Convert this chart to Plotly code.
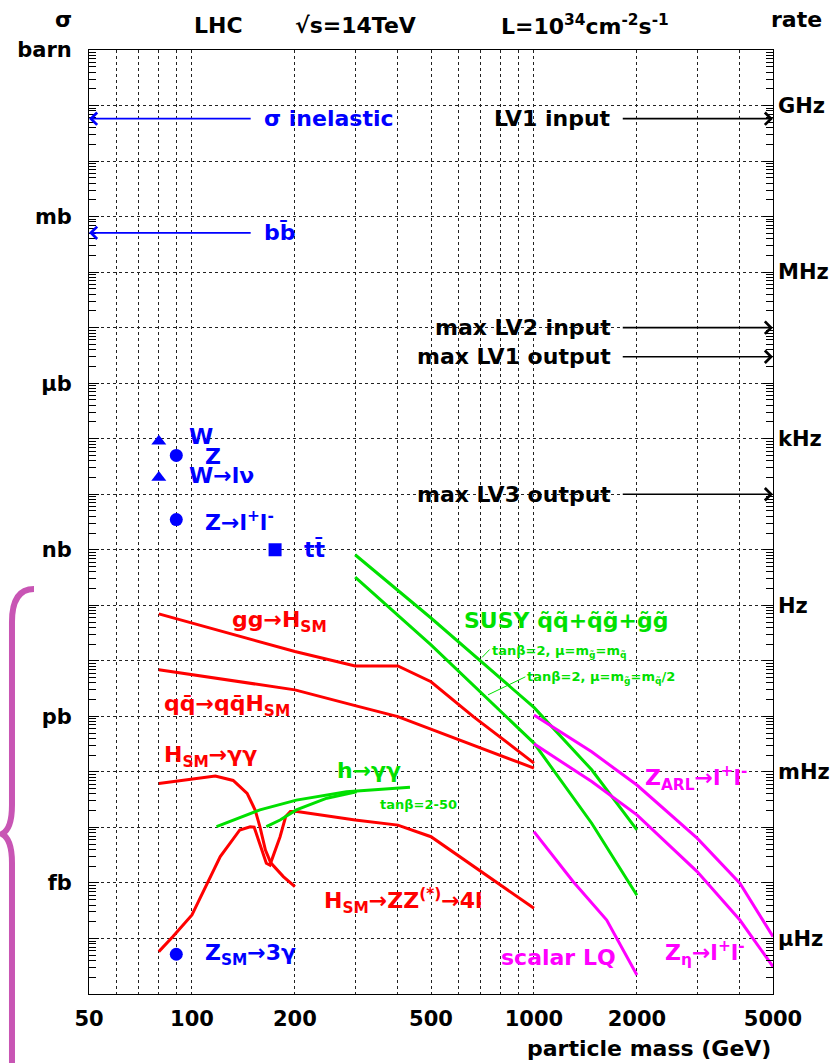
import numpy as np
import plotly.graph_objects as go

# ---------------------------------------------------------------------------
# Units: cross sections are plotted in barn
NB, PB, FB = 1e-9, 1e-12, 1e-15
# L = 1e34 cm^-2 s^-1  ->  rate [Hz] = sigma [barn] * 1e10
HZ_PER_BARN = 1e10

# Total rates (arrows to the left axis), in barn
sigma_inelastic = 0.058
sigma_bbbar = 5.1e-4

# Trigger rates (arrows to the right axis), in Hz
rate_lv1_input = 5.8e8
rate_lv2_input = 1.0e5
rate_lv1_output = 3.0e4
rate_lv3_output = 1.0e2

# Standard-model reference points
w_mass, w_total_nb, w_lnu_nb = 80, 90, 20
z_mass, z_total_nb, z_ll_nb = 90, 50, 3.5
top_mass, ttbar_nb = 175, 1.0
z3g_mass, z3g_fb = 90, 0.052

# SM Higgs production / decay channels
gg_h_mass = [80, 200, 300, 400, 500, 665, 1000]
gg_h_pb = [70, 14.7, 8.1, 8.1, 4.2, 0.99, 0.144]

qq_h_mass = [80, 200, 300, 400, 1000]
qq_h_pb = [6.9, 3.0, 1.56, 0.99, 0.117]

h_gg_mass = [80, 100, 117, 132, 145, 153, 158, 164, 170, 185, 200]
h_gg_fb = [62, 74, 84, 70, 41, 20.6, 10.3, 3.9, 2.3, 1.3, 0.86]

h_zz_mass = [80, 88, 100, 121, 138, 148, 152, 165, 169, 181, 188, 194, 203, 300, 400, 500, 1000]
h_zz_fb = [0.058, 0.108, 0.265, 2.98, 9.0, 10.3, 10.1, 2.26, 2.1, 6.8, 15.7, 19.3, 19.3, 13.6, 11.0, 6.8, 0.35]

# MSSM light Higgs h -> gamma gamma band (tan beta = 2-50)
mssm_hgg_upper_mass = [118, 158, 202, 283, 434]
mssm_hgg_upper_fb = [10.3, 20.7, 31, 44, 53]
mssm_hgg_lower_mass = [165, 181, 202, 248, 303]
mssm_hgg_lower_fb = [10.3, 13.6, 20.7, 33.6, 44]

# SUSY squark/gluino production
susy_mass = [300, 500, 1000, 1475, 2000]
susy_equal_pb = [813, 59, 1.45, 0.109, 0.009]
susy_half_pb = [322, 19.4, 0.33, 0.0119, 0.0006]

# New heavy gauge bosons and leptoquarks
zprime_mass = [1000, 1475, 2000, 3000, 4000, 5000]
z_arl_fb = [1060, 230, 58, 6.4, 0.99, 0.108]
z_eta_fb = [320, 67, 16.8, 1.6, 0.215, 0.031]
lq_mass = [1000, 1303, 1632, 2000]
lq_fb = [8.4, 1.05, 0.215, 0.022]

# Leader lines from the small tan(beta) captions to their curves
leader_equal_mass = [742, 705]
leader_equal_sigma = [1.6e-11, 1.15e-11]
leader_half_mass = [944, 734]
leader_half_sigma = [5.15e-12, 2.44e-12]

# Axis ticks
sigma_label_vals = [1e0, 1e-3, 1e-6, 1e-9, 1e-12, 1e-15]
sigma_label_text = ["barn", "mb", "μb", "nb", "pb", "fb"]
sigma_other_decades = [10.0 ** -k for k in range(1, 18) if k % 3 != 0]
sigma_minor_vals = [m * 10.0 ** -k for k in range(1, 18) for m in range(2, 10)]

rate_tick_hz = [1e9, 1e6, 1e3, 1e0, 1e-3, 1e-6]
rate_tick_text = ["GHz", "MHz", "kHz", "Hz", "mHz", "μHz"]

mass_label_vals = [50, 100, 200, 500, 1000, 2000, 5000]
mass_label_text = ["50", "100", "200", "500", "1000", "2000", "5000"]
mass_other_grid = [60, 70, 80, 90, 300, 400, 600, 700, 800, 900, 3000, 4000]

# ---------------------------------------------------------------------------
FONT = "DejaVu Sans"
BLUE = "#0000ff"
RED = "#ff0000"
GREEN = "#00e000"
MAGENTA = "#ff00ff"
BRACE = "#c855b4"
lg = np.log10

fig = go.Figure()


def curve(mass, sigma, color, width=3.0):
    fig.add_trace(go.Scatter(x=mass, y=sigma, mode="lines",
                             line=dict(color=color, width=width),
                             showlegend=False, hoverinfo="skip"))


def scaled(values, unit):
    return [v * unit for v in values]


curve(gg_h_mass, scaled(gg_h_pb, PB), RED)
curve(qq_h_mass, scaled(qq_h_pb, PB), RED)
curve(h_gg_mass, scaled(h_gg_fb, FB), RED)
curve(h_zz_mass, scaled(h_zz_fb, FB), RED)
curve(mssm_hgg_upper_mass, scaled(mssm_hgg_upper_fb, FB), GREEN)
curve(mssm_hgg_lower_mass, scaled(mssm_hgg_lower_fb, FB), GREEN)
curve(susy_mass, scaled(susy_equal_pb, PB), GREEN)
curve(susy_mass, scaled(susy_half_pb, PB), GREEN)
curve(leader_equal_mass, leader_equal_sigma, GREEN, 1)
curve(leader_half_mass, leader_half_sigma, GREEN, 1)
curve(zprime_mass, scaled(z_arl_fb, FB), MAGENTA)
curve(zprime_mass, scaled(z_eta_fb, FB), MAGENTA)
curve(lq_mass, scaled(lq_fb, FB), MAGENTA)

# SM reference points
fig.add_trace(go.Scatter(x=[w_mass, w_mass], y=[w_total_nb * NB, w_lnu_nb * NB],
                         mode="markers", marker=dict(symbol="triangle-up", size=13, color=BLUE),
                         showlegend=False, hoverinfo="skip"))
fig.add_trace(go.Scatter(x=[z_mass, z_mass, z3g_mass],
                         y=[z_total_nb * NB, z_ll_nb * NB, z3g_fb * FB],
                         mode="markers", marker=dict(symbol="circle", size=13, color=BLUE),
                         showlegend=False, hoverinfo="skip"))
fig.add_trace(go.Scatter(x=[top_mass], y=[ttbar_nb * NB], mode="markers",
                         marker=dict(symbol="square", size=13, color=BLUE),
                         showlegend=False, hoverinfo="skip"))

# carriers for the rate axis and the fine tick axis
fig.add_trace(go.Scatter(x=[100], y=[1e-5], yaxis="y2", mode="markers",
                         marker=dict(opacity=0), showlegend=False, hoverinfo="skip"))
fig.add_trace(go.Scatter(x=[100], y=[1e-5], yaxis="y3", mode="markers",
                         marker=dict(opacity=0), showlegend=False, hoverinfo="skip"))


def label(text, mass, sigma, color, size=22, anchor="left"):
    fig.add_annotation(x=lg(mass), y=lg(sigma), xref="x", yref="y", text=text,
                       showarrow=False, xanchor=anchor, yanchor="middle",
                       font=dict(family=FONT, size=size, color=color, weight="bold"))


def arrow(tip_mass, tail_mass, sigma, color):
    fig.add_annotation(x=lg(tip_mass), y=lg(sigma), ax=lg(tail_mass), ay=lg(sigma),
                       xref="x", yref="y", axref="x", ayref="y", text="",
                       showarrow=True, arrowhead=4, arrowsize=1.5, arrowwidth=1.6,
                       arrowcolor=color, standoff=0, startstandoff=0)


# total cross sections -> left
arrow(50, 150, sigma_inelastic, BLUE)
label("σ inelastic", 160, sigma_inelastic, BLUE)
arrow(50, 150, sigma_bbbar, BLUE)
label("bb\u0304", 160, sigma_bbbar, BLUE)

# trigger levels -> right
for text, rate in [("LV1 input", rate_lv1_input),
                   ("max LV2 input", rate_lv2_input),
                   ("max LV1 output", rate_lv1_output),
                   ("max LV3 output", rate_lv3_output)]:
    arrow(5000, 1800, rate / HZ_PER_BARN, "black")
    label(text, 1700, rate / HZ_PER_BARN, "black", anchor="right")

label("W", 96.5, 1.08e-7, BLUE)
label("Z", 107.7, 4.85e-8, BLUE)
label("W→lν", 96.5, 2.15e-8, BLUE)
label("Z→l<sup>+</sup>l<sup>-</sup>", 107.7, 3.33e-9, BLUE)
label("tt\u0304", 209.5, 1.0e-9, BLUE)
label("Z<sub>SM</sub>→3γ", 107.7, 5.05e-17, BLUE)

label("gg→H<sub>SM</sub>", 129, 5.05e-11, RED)
label("qq\u0304→qq\u0304H<sub>SM</sub>", 81.6, 1.55e-12, RED)
label("H<sub>SM</sub>→γγ", 81.6, 1.86e-13, RED)
label("H<sub>SM</sub>→ZZ<sup>(*)</sup>→4l", 239.6, 4.74e-16, RED)

label("h→γγ", 262.5, 1.04e-13, GREEN)
label("tanβ=2-50", 350, 2.54e-14, GREEN, size=13)
label("SUSY q\u0303q\u0303+q\u0303g\u0303+g\u0303g\u0303", 614, 5.26e-11, GREEN)
label("tanβ=2, μ=m<sub>g\u0303</sub>=m<sub>q\u0303</sub>", 742, 1.45e-11, GREEN, size=13)
label("tanβ=2, μ=m<sub>g\u0303</sub>=m<sub>q\u0303</sub>/2", 944, 4.94e-12, GREEN, size=13)

label("Z<sub>ARL</sub>→l<sup>+</sup>l<sup>-</sup>", 2087, 7.8e-14, MAGENTA)
label("Z<sub>η</sub>→l<sup>+</sup>l<sup>-</sup>", 2382, 5.5e-17, MAGENTA)
label("scalar LQ", 1762, 4.5e-17, MAGENTA, anchor="right")


def header(text, xpaper, yshift, anchor="center", xshift=0):
    fig.add_annotation(x=xpaper, y=1, xref="paper", yref="paper", text=text,
                       showarrow=False, xanchor=anchor, yanchor="middle",
                       xshift=xshift, yshift=yshift,
                       font=dict(family=FONT, size=22, color="black", weight="bold"))


header("σ", 0, 31, xshift=-26)
header("LHC", 0.190, 25)
header("√s=14TeV", 0.389, 25)
header("L=10<sup>34</sup>cm<sup>-2</sup>s<sup>-1</sup>", 0.725, 25)
header("rate", 1.035, 31)

fig.add_annotation(x=1, y=0, xref="paper", yref="paper", text="particle mass (GeV)",
                   showarrow=False, xanchor="right", yanchor="middle", yshift=-54,
                   font=dict(family=FONT, size=22, color="black", weight="bold"))

# curly bracket in the left margin (pixel layout -> paper coordinates)
PLOT_L, PLOT_R, PLOT_T, PLOT_B = 89, 773, 50, 994


def px(x, y):
    return f"{(x - PLOT_L) / (PLOT_R - PLOT_L):.4f},{(PLOT_B - y) / (PLOT_B - PLOT_T):.4f}"


brace_path = (f"M{px(34, 589)} Q{px(12, 589)} {px(12, 622)} L{px(12, 805)} "
              f"Q{px(12, 829)} {px(2, 834)} Q{px(12, 839)} {px(12, 863)} L{px(12, 1075)}")
fig.add_shape(type="path", path=brace_path, xref="paper", yref="paper",
              line=dict(color=BRACE, width=6))

grid = dict(showgrid=True, gridcolor="#222222", gridwidth=1, griddash="3px,3px")
tickfont = dict(family=FONT, size=21, color="black", weight="bold")
x_range = [lg(50), lg(5000)]
y_range = [-17, 0]

fig.update_layout(
    width=838, height=1063, autosize=False,
    margin=dict(l=PLOT_L, r=838 - PLOT_R, t=PLOT_T, b=1063 - PLOT_B, pad=0),
    paper_bgcolor="white", plot_bgcolor="white", showlegend=False,
    font=dict(family=FONT, size=21, color="black"),
    xaxis=dict(type="log", range=x_range, tickmode="array", tickvals=mass_label_vals,
               ticktext=mass_label_text, ticks="", showline=True, linecolor="black",
               linewidth=1, mirror=True, automargin=False, tickfont=tickfont,
               ticklabelstandoff=6,
               minor=dict(tickmode="array", tickvals=mass_other_grid, ticks="", **grid),
               **grid),
    yaxis=dict(type="log", range=y_range, tickmode="array", tickvals=sigma_label_vals,
               ticktext=sigma_label_text, ticks="inside", ticklen=10, tickcolor="black",
               tickwidth=1, showline=True, linecolor="black", linewidth=1, mirror="ticks",
               minor=dict(ticks="inside", ticklen=10, tickcolor="black", tickwidth=1,
                          tickmode="array", tickvals=sigma_other_decades, **grid),
               tickfont=tickfont, ticklabelstandoff=12, automargin=False, **grid),
    yaxis2=dict(type="log", range=y_range, overlaying="y", side="right",
                tickmode="array", tickvals=[r / HZ_PER_BARN for r in rate_tick_hz],
                ticktext=rate_tick_text, ticks="", showgrid=False, showline=False,
                tickfont=tickfont, ticklabelstandoff=4, automargin=False),
    yaxis3=dict(type="log", range=y_range, overlaying="y", side="left",
                tickmode="array", tickvals=sigma_minor_vals, showticklabels=False,
                ticks="inside", ticklen=7, tickcolor="black", tickwidth=1,
                showgrid=False, showline=False, mirror="ticks", automargin=False),
)

fig.write_html("out.html")
